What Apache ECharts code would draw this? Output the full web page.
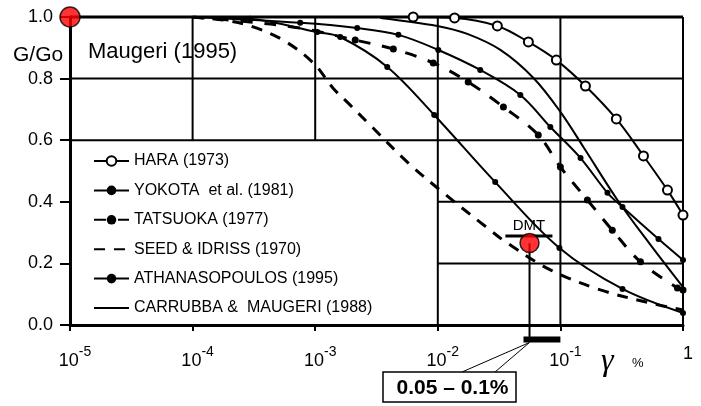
<!DOCTYPE html>
<html>
<head>
<meta charset="utf-8">
<script src="https://cdn.jsdelivr.net/npm/echarts@6/dist/echarts.min.js"></script>
<style>
  html, body { margin: 0; padding: 0; background: #fff; }
  #chart { width: 701px; height: 406px; }
</style>
</head>
<body>
<div id="chart"></div>
<script>
// Shear strain γ (%) and normalised shear modulus G/Go for each curve
const haraStrain = [0.0063, 0.0137, 0.0306, 0.0548, 0.0927, 0.160, 0.286, 0.476, 0.747, 1.0];
const haraRatio  = [1.0, 0.997, 0.971, 0.919, 0.860, 0.776, 0.669, 0.549, 0.438, 0.357];

const yokotaStrain = [0.0001, 0.000294, 0.00104, 0.0016, 0.00387, 0.00935, 0.0294, 0.0982, 0.321, 1.0];
const yokotaRatio  = [1.0, 0.994, 0.951, 0.935, 0.838, 0.682, 0.464, 0.250, 0.117, 0.039];

const tatsuokaStrain = [0.0001, 0.000244, 0.000755, 0.00212, 0.00434, 0.00918, 0.0177, 0.0343, 0.066, 0.100, 0.166, 0.265, 0.45, 0.90, 1.0];
const tatsuokaRatio  = [1.0, 0.987, 0.964, 0.925, 0.896, 0.851, 0.789, 0.708, 0.617, 0.513, 0.406, 0.308, 0.205, 0.120, 0.114];

const seedStrain = [0.0001, 0.000202, 0.000312, 0.000548, 0.000964, 0.0014, 0.00193, 0.00281, 0.00564, 0.0111, 0.0254, 0.0369, 0.0828, 0.212, 0.543, 1.0];
const seedRatio  = [1.0, 0.987, 0.968, 0.925, 0.851, 0.769, 0.714, 0.649, 0.529, 0.429, 0.315, 0.266, 0.179, 0.114, 0.071, 0.049];

const athanStrain = [0.0001, 0.000755, 0.0022, 0.00477, 0.0101, 0.0222, 0.0471, 0.0828, 0.146, 0.242, 0.321, 0.631, 1.0];
const athanRatio  = [1.0, 0.981, 0.964, 0.942, 0.893, 0.828, 0.747, 0.643, 0.542, 0.429, 0.383, 0.279, 0.211];

const carrubbaStrain = [0.0034, 0.0099, 0.0174, 0.0324, 0.0603, 0.100, 0.154, 0.292, 0.543, 1.0];
const carrubbaRatio  = [0.997, 0.971, 0.945, 0.893, 0.802, 0.692, 0.578, 0.406, 0.260, 0.123];

// Reference points
const initialPoint = [0.00001, 1.0];
const dmtPoint = [0.056, 0.266];
const dmtCapStrain = [0.0356, 0.0861];
const dmtCapLevel = 0.289;
const dmtRange = [0.05, 0.1];
const dmtRangeLevel = -0.047;
const dmtRangeLabel = '0.05 – 0.1%';

// Axis ticks and grid segments (level, from, to)
const yTicks = [0, 0.2, 0.4, 0.6, 0.8, 1.0];
const hGrid = [[1.0, 1e-5, 1], [0.8, 1e-5, 1], [0.6, 1e-5, 1], [0.4, 1e-2, 1], [0.2, 1e-2, 1]];
const vGrid = [[1e-4, 0.6, 1], [1e-3, 0.6, 1], [1e-2, 0, 1], [1e-1, 0, 1], [1, 0, 1]];

const FONT = '"Liberation Sans", Arial, Helvetica, sans-serif';
const BLACK = '#000';

// first `anchors` points only shape the line, they carry no marker
function curveData(strain, ratio, anchors) {
  return strain.map((g, i) => i < anchors ? { value: [g, ratio[i]], symbol: 'none' } : [g, ratio[i]]);
}

function segment(points, width) {
  return {
    type: 'line', data: points, symbol: 'none', silent: true, animation: false,
    lineStyle: { color: BLACK, width: width }, z: 1, clip: false
  };
}

const gridSeries = [];
hGrid.forEach(([y, x0, x1], i) => gridSeries.push(segment([[x0, y], [x1, y]], i === 0 ? 3 : 2)));
vGrid.forEach(([x, y0, y1]) => gridSeries.push(segment([[x, y0], [x, y1]], 2)));

const dotStyle = { color: BLACK, borderColor: BLACK, borderWidth: 0 };
const SMOOTH = 0.35;

const curves = [
  {
    name: 'HARA (1973)', type: 'line', smooth: SMOOTH,
    data: curveData(haraStrain, haraRatio, 0),
    symbol: 'circle', symbolSize: 9,
    itemStyle: { color: '#fff', borderColor: BLACK, borderWidth: 2 },
    lineStyle: { color: BLACK, width: 2 }
  },
  {
    name: 'YOKOTA  et al. (1981)', type: 'line', smooth: SMOOTH,
    data: curveData(yokotaStrain, yokotaRatio, 1),
    symbol: 'circle', symbolSize: 6, itemStyle: dotStyle,
    lineStyle: { color: BLACK, width: 2 }
  },
  {
    name: 'TATSUOKA (1977)', type: 'line', smooth: SMOOTH,
    data: curveData(tatsuokaStrain, tatsuokaRatio, 3),
    symbol: 'circle', symbolSize: 7, itemStyle: dotStyle,
    lineStyle: { color: BLACK, width: 3, type: [12, 12] }
  },
  {
    name: 'SEED & IDRISS (1970)', type: 'line', smooth: SMOOTH,
    data: curveData(seedStrain, seedRatio, 0),
    symbol: 'none', itemStyle: { color: BLACK },
    lineStyle: { color: BLACK, width: 3, type: [11, 9] }
  },
  {
    name: 'ATHANASOPOULOS (1995)', type: 'line', smooth: SMOOTH,
    data: curveData(athanStrain, athanRatio, 1),
    symbol: 'circle', symbolSize: 6, itemStyle: dotStyle,
    lineStyle: { color: BLACK, width: 2 }
  },
  {
    name: 'CARRUBBA &  MAUGERI (1988)', type: 'line', smooth: SMOOTH,
    data: curveData(carrubbaStrain, carrubbaRatio, 0),
    symbol: 'none', itemStyle: { color: BLACK },
    lineStyle: { color: BLACK, width: 2 }
  }
];
curves.forEach(c => { c.z = 3; c.animation = false; });

const markers = [
  // DMT cap above the point
  Object.assign(segment([[dmtCapStrain[0], dmtCapLevel], [dmtCapStrain[1], dmtCapLevel]], 3), { z: 5 }),
  // stem from DMT point down to the strain range bar
  Object.assign(segment([dmtPoint, [dmtPoint[0], dmtRangeLevel]], 2), { z: 5 }),
  // strain range bar under the axis
  Object.assign(segment([[dmtRange[0], dmtRangeLevel], [dmtRange[1], dmtRangeLevel]], 6), { z: 5 }),
  {
    type: 'scatter', data: [initialPoint], symbolSize: 20, z: 8, animation: false, silent: true,
    itemStyle: { color: '#ff0000', borderColor: BLACK, borderWidth: 1.5 }
  },
  {
    type: 'scatter', data: [dmtPoint], symbolSize: 19, z: 8, animation: false, silent: true,
    itemStyle: { color: '#ff0000', borderColor: BLACK, borderWidth: 1.5 }
  }
];

// legend rows: lines without markers get a hidden symbol
const legendData = curves.map(c => c.symbol === 'none'
  ? { name: c.name, itemStyle: { opacity: 0 } }
  : { name: c.name });

const chart = echarts.init(document.getElementById('chart'), null, { renderer: 'canvas' });

const baseGraphic = [
  { type: 'text', left: 13, top: 45, style: { text: 'G/Go', font: '21px ' + FONT, fill: BLACK } },
  { type: 'text', left: 88, top: 41, style: { text: 'Maugeri (1995)', font: '22px ' + FONT, fill: BLACK } },
  { type: 'text', left: 601, top: 346, style: { text: 'γ', font: 'italic 32px "Liberation Serif", "DejaVu Serif", serif', fill: BLACK } },
  { type: 'text', left: 632, top: 357, style: { text: '%', font: '13px ' + FONT, fill: BLACK } }
];

chart.setOption({
  animation: false,
  backgroundColor: '#fff',
  grid: { left: 70, right: 18, top: 17, bottom: 81, containLabel: false, outerBoundsMode: 'none' },
  xAxis: {
    type: 'log', logBase: 10, min: 1e-5, max: 1,
    axisLine: { show: true, lineStyle: { color: BLACK, width: 3 } },
    axisTick: { show: true, length: 6, lineStyle: { color: BLACK, width: 2 } },
    minorTick: { show: false },
    splitLine: { show: false },
    axisLabel: {
      margin: 20, padding: [0, 0, 0, 10],
      formatter: v => {
        const e = Math.round(Math.log10(v));
        return e === 0 ? '{one|1}' : '{n|10}{e|' + e + '}';
      },
      rich: {
        n: { fontFamily: FONT, fontSize: 18, color: BLACK, lineHeight: 25, verticalAlign: 'bottom' },
        e: { fontFamily: FONT, fontSize: 14, color: BLACK, lineHeight: 25, verticalAlign: 'top' },
        one: { fontFamily: FONT, fontSize: 18, color: BLACK, lineHeight: 25, verticalAlign: 'top' }
      }
    }
  },
  yAxis: {
    type: 'value', min: 0, max: 1, interval: 0.2,
    axisLine: { show: true, lineStyle: { color: BLACK, width: 3 } },
    axisTick: { show: true, length: 10, lineStyle: { color: BLACK, width: 2 } },
    splitLine: { show: false },
    axisLabel: {
      margin: 17, color: BLACK, fontFamily: FONT, fontSize: 18,
      formatter: v => yTicks.includes(Math.round(v * 10) / 10) ? v.toFixed(1) : ''
    }
  },
  legend: {
    data: legendData,
    orient: 'vertical', left: 93, top: 153, padding: 0,
    itemWidth: 35, itemHeight: 12, itemGap: 13.4,
    textStyle: { color: BLACK, fontFamily: FONT, fontSize: 16, lineHeight: 16 },
    selectedMode: false
  },
  graphic: baseGraphic,
  series: gridSeries.concat(curves, markers)
});

// DMT label and callout box for the strain range bar
const capCenter = chart.convertToPixel({ gridIndex: 0 }, [Math.sqrt(dmtCapStrain[0] * dmtCapStrain[1]), dmtCapLevel]);
const stemBottom = chart.convertToPixel({ gridIndex: 0 }, [dmtPoint[0], dmtRangeLevel]);
const boxX = 383, boxY = 372, boxW = 133, boxH = 30;
chart.setOption({
  graphic: baseGraphic.concat([
    {
      type: 'text', x: capCenter[0], y: capCenter[1] - 3, z: 12,
      style: { text: 'DMT', font: '15px ' + FONT, fill: BLACK, align: 'center', verticalAlign: 'bottom' }
    },
    { type: 'line', shape: { x1: stemBottom[0], y1: stemBottom[1] + 3, x2: boxX + 79, y2: boxY }, style: { stroke: BLACK, lineWidth: 1 }, z: 10 },
    { type: 'line', shape: { x1: stemBottom[0], y1: stemBottom[1] + 3, x2: boxX + 112, y2: boxY }, style: { stroke: BLACK, lineWidth: 1 }, z: 10 },
    { type: 'rect', shape: { x: boxX, y: boxY, width: boxW, height: boxH }, style: { fill: '#fff', stroke: BLACK, lineWidth: 1.5 }, z: 11 },
    {
      type: 'text', x: boxX + boxW / 2 + 3, y: boxY + boxH / 2 + 1, z: 12,
      style: { text: dmtRangeLabel, font: 'bold 21px ' + FONT, fill: BLACK, align: 'center', verticalAlign: 'middle' }
    }
  ])
}, { replaceMerge: ['graphic'] });
</script>
</body>
</html>
